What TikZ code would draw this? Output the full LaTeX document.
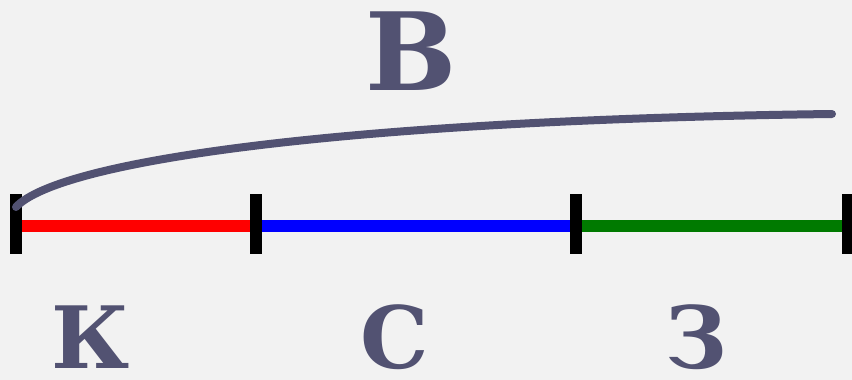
\documentclass[tikz,border=0pt]{standalone}
\usepackage{fontspec}
\setmainfont{DejaVu Serif}
\definecolor{bg}{HTML}{F2F2F2}
\definecolor{ink}{HTML}{525272}
\definecolor{segred}{HTML}{FF0000}
\definecolor{segblue}{HTML}{0000FF}
\definecolor{seggreen}{HTML}{007A00}
\begin{document}
\begin{tikzpicture}[x=1pt,y=-1pt,
  seg/.style={line width=12pt},
  tick/.style={line width=12pt,black},
  arcline/.style={line width=8pt,ink,line cap=round},
  letter/.style={font=\bfseries\fontsize{86}{86}\selectfont,text=ink,inner sep=0pt,anchor=base,text depth=0pt,text height=0.73em},
  bigletter/.style={font=\bfseries\fontsize{108}{108}\selectfont,text=ink,inner sep=0pt,anchor=base,text depth=0pt,text height=0.73em}]
\fill[bg] (0,0) rectangle (852,380);
\useasboundingbox (0,0) rectangle (852,380);
% tick positions
\coordinate (p0) at (16,226);
\coordinate (p1) at (256,226);
\coordinate (p2) at (576,226);
\coordinate (p3) at (848,226);
\coordinate (p0t) at (16,194);
\coordinate (p0b) at (16,254);
\coordinate (p1t) at (256,194);
\coordinate (p1b) at (256,254);
\coordinate (p2t) at (576,194);
\coordinate (p2b) at (576,254);
\coordinate (p3t) at (848,194);
\coordinate (p3b) at (848,254);
% segments
\draw[seg,segred] (p0) -- (p1);
\draw[seg,segblue] (p1) -- (p2);
\draw[seg,seggreen] (p2) -- (p3);
% ticks
\draw[tick] (p0t) -- (p0b);
\draw[tick] (p1t) -- (p1b);
\draw[tick] (p2t) -- (p2b);
\draw[tick] (p3t) -- (p3b);
% arc
\coordinate (cs) at (16,207);
\coordinate (ce) at (832,114);
\draw[arcline] (cs) .. controls (60,160) and (350,120) .. (ce);
% letters
\node[bigletter] (lB) at (411,90) {В};
\node[letter] (lK) at (91,368) {К};
\node[letter] (lS) at (395,368) {С};
\node[letter] (lZ) at (697,368) {З};
\end{tikzpicture}
\end{document}
